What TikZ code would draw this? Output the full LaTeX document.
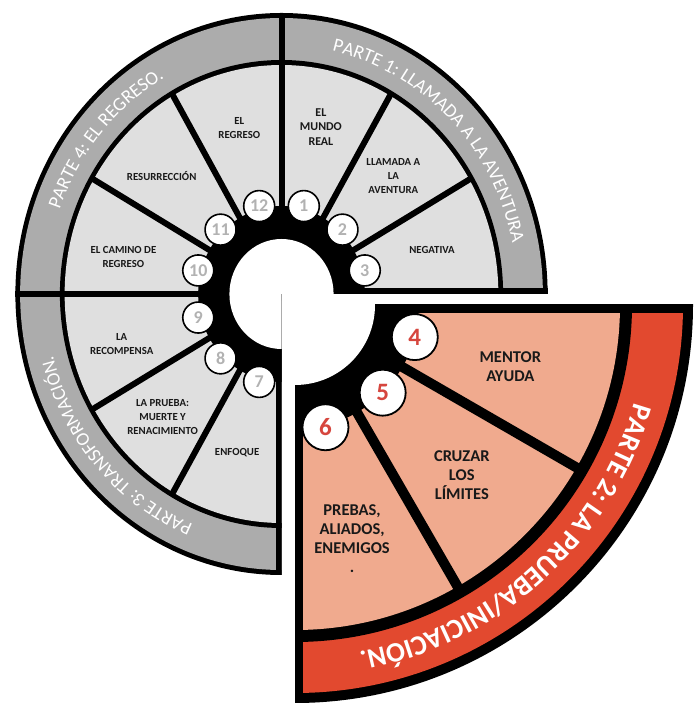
\documentclass[tikz,border=0pt]{standalone}
\usepackage{fontspec}
\setmainfont{Carlito}
\usepackage{tikz}
\usetikzlibrary{decorations.text}
\usetikzlibrary{positioning}

\definecolor{bandgray}{RGB}{172,172,172}
\definecolor{sectgray}{RGB}{223,223,223}
\definecolor{bandred}{RGB}{226,73,47}
\definecolor{sectred}{RGB}{240,170,142}
\definecolor{numred}{RGB}{214,70,62}

\begin{document}
\begin{tikzpicture}[x=1pt, y=1pt,
	lab/.style={align=center, text=black!90, font=\fontsize{10.8}{14}\selectfont\bfseries},
	biglab/.style={align=center, text=black!90, font=\fontsize{16.5}{19}\selectfont\bfseries},
	num/.style={circle, draw=black, line width=1.6pt, fill=white, minimum size=31pt, inner sep=0pt, text=gray!60, font=\fontsize{18}{18}\selectfont\bfseries},
	bignum/.style={circle, draw=black, line width=1.8pt, fill=white, minimum size=46pt, inner sep=0pt, text=numred, font=\fontsize{25}{25}\selectfont\bfseries},
	spoke/.style={line width=6pt},
	bigspoke/.style={line width=10pt}]
	\useasboundingbox (0,0) rectangle (698,706);

	\begin{scope}[shift={(281.5,412)}, xscale=0.947]
		\begin{scope}
			\clip (0,0) -- (0:300) arc[start angle=0, end angle=270, radius=300] -- cycle;
			\fill[black] (0,0) circle[radius=281];
			\fill[bandgray] (0,0) circle[radius=276];
			\fill[black] (0,0) circle[radius=234];
			\fill[sectgray] (0,0) circle[radius=229];
			\draw[spoke] (0,0) -- (30:232);
			\draw[spoke] (0,0) -- (60:232);
			\draw[spoke] (0,0) -- (120:232);
			\draw[spoke] (0,0) -- (150:232);
			\draw[spoke] (0,0) -- (210:232);
			\draw[spoke] (0,0) -- (240:232);
			\draw[spoke] (0,0) -- (90:281);
			\draw[spoke] (0,0) -- (180:281);
			\draw[line width=12pt] (0,0) -- (0:281);
			\draw[line width=12pt] (0,0) -- (270:281);
			\fill[black] (0,0) circle[radius=88];
			\fill[white] (0,0) circle[radius=55];
		\end{scope}

		\path[decorate, decoration={text along path, text align=center,
			text={|\fontsize{19}{19}\selectfont\color{white}|PARTE 1: LLAMADA A LA AVENTURA}}]
			(105.4:249) arc[start angle=105.4, end angle=-14.6, radius=249];
		\path[decorate, decoration={text along path, text align=center,
			text={|\fontsize{19}{19}\selectfont\color{white}|PARTE 4: EL REGRESO.}}]
			(199:249) arc[start angle=199, end angle=79, radius=249];
		\path[decorate, decoration={text along path, text align=center,
			text={|\fontsize{19}{19}\selectfont\color{white}|PARTE 3: TRANSFORMACIÓN.}}]
			(282:249) arc[start angle=282, end angle=162, radius=249];

		\node[lab, font=\fontsize{12}{14.5}\selectfont\bfseries] (mundo) at (76:172) {EL\\MUNDO\\REAL};
		\node[lab] (llamada) at (45:167) {LLAMADA A\\LA\\AVENTURA};
		\node[lab] (negativa) at (15.5:165) {NEGATIVA};
		\node[lab] (regreso) at (105:172) {EL\\REGRESO};
		\node[lab] (resurreccion) at (137:173) {RESURRECCIÓN};
		\node[lab] (camino) at (167.5:171) {EL CAMINO DE\\REGRESO};
		\node[lab] (recompensa) at (196.5:176) {LA\\RECOMPENSA};
		\node[lab] (prueba) at (224.5:176) {LA PRUEBA:\\MUERTE Y\\RENACIMIENTO};
		\node[lab] (enfoque) at (253.5:165) {ENFOQUE};

		\node[num] (1) at (75:91) {1};
		\node[num] (2) at (45:91) {2};
		\node[num] (3) at (15:91) {3};
		\node[num] (7) at (255:91) {7};
		\node[num] (8) at (225:91) {8};
		\node[num] (9) at (195:91) {9};
		\node[num] (10) at (165:91) {10};
		\node[num] (11) at (135:91) {11};
		\node[num] (12) at (105:91) {12};
	\end{scope}

	\begin{scope}[shift={(295,401)}]
		\begin{scope}
			\clip (0,0) rectangle (400,-400);
			\fill[black] (0,0) circle[radius=398];
			\fill[bandred] (0,0) circle[radius=388];
			\fill[black] (0,0) circle[radius=337];
			\fill[sectred] (0,0) circle[radius=325];
			\draw[bigspoke] (0,0) -- (-30:330);
			\draw[bigspoke] (0,0) -- (-60:330);
			\draw[line width=16pt] (0,0) -- (0:398);
			\draw[line width=16pt] (0,0) -- (-90:398);
			\fill[black] (0,0) circle[radius=124];
			\fill[white] (0,0) circle[radius=80];
		\end{scope}

		\path[decorate, decoration={text along path, text align=center,
			text={|\fontsize{28}{28}\selectfont\bfseries\color{white}|PARTE 2: LA PRUEBA/INICIACIÓN.}}]
			(12.2:353) arc[start angle=12.2, end angle=-107.8, radius=353];

		\node[biglab] (mentor) at (-16:224) {MENTOR\\AYUDA};
		\node[biglab] (cruzar) at (-45.5:238) {CRUZAR\\LOS\\LÍMITES};
		\node[biglab] (pruebas) at (-76.3:241) {PREBAS,\\ALIADOS,\\ENEMIGOS\\.};

		\node[bignum] (4) at (-15:124) {4};
		\node[bignum] (5) at (-45:124) {5};
		\node[bignum] (6) at (-76:126) {6};
	\end{scope}
\end{tikzpicture}
\end{document}
